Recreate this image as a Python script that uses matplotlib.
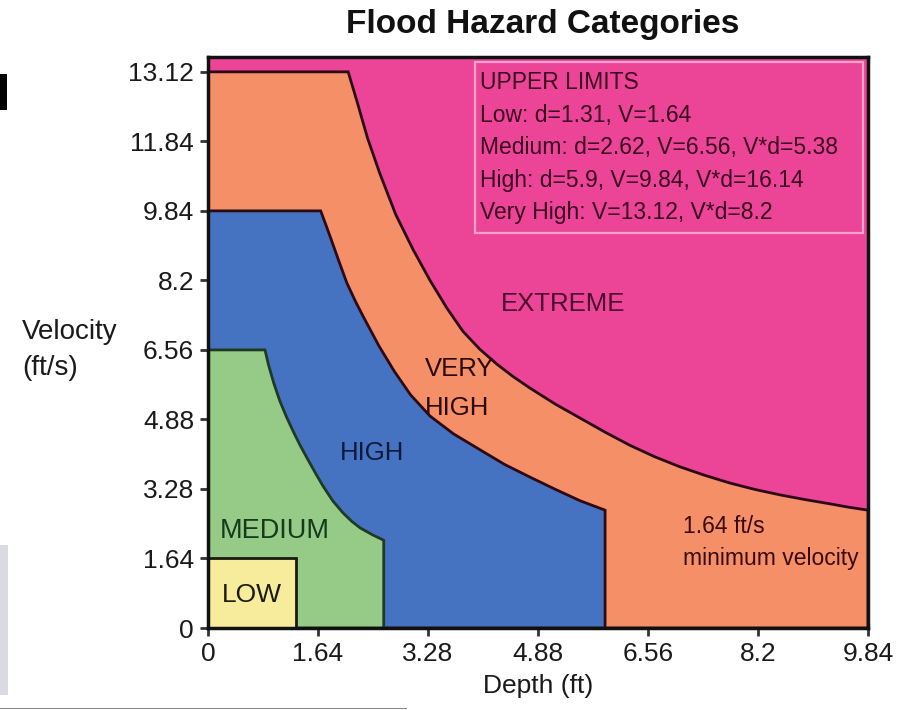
import matplotlib
matplotlib.use("Agg")
import matplotlib.pyplot as plt
from matplotlib.patches import Rectangle

# tick positions (1.64 ft steps) and the labels printed on the original chart
x_ticks = [0, 1.64, 3.28, 4.92, 6.56, 8.2, 9.84]
x_labels = ["0", "1.64", "3.28", "4.88", "6.56", "8.2", "9.84"]
y_ticks = [0, 1.64, 3.28, 4.92, 6.56, 8.2, 9.84, 11.48, 13.12]
y_labels = ["0", "1.64", "3.28", "4.88", "6.56", "8.2", "9.84", "11.84", "13.12"]

# category boundaries (depth ft, velocity ft/s)
low_d = [0, 0, 1.31, 1.31]
low_v = [0, 1.64, 1.64, 0]

medium_d = [0, 0, 0.85, 0.90, 0.98, 1.07, 1.17, 1.27, 1.37, 1.48, 1.60, 1.71,
            1.86, 2.01, 2.14, 2.27, 2.45, 2.62, 2.62]
medium_v = [0, 6.56, 6.56, 6.22, 5.78, 5.36, 4.98, 4.64, 4.32, 4.00, 3.66, 3.36,
            3.00, 2.72, 2.52, 2.36, 2.20, 2.07, 0]

high_d = [0, 0, 1.68, 1.76, 1.84, 1.95, 2.07, 2.20, 2.33, 2.55, 2.78, 3.02, 3.31,
          3.66, 4.06, 4.42, 4.80, 5.18, 5.55, 5.92, 5.92]
high_v = [0, 9.84, 9.84, 9.50, 9.15, 8.66, 8.14, 7.70, 7.30, 6.65, 6.05, 5.50,
          5.00, 4.58, 4.20, 3.86, 3.56, 3.27, 3.00, 2.78, 0]

vhigh_d = [0, 0, 2.09, 2.15, 2.22, 2.38, 2.56, 2.80, 3.06, 3.31, 3.56, 3.80,
           4.05, 4.31, 4.55, 4.80, 5.18, 5.55, 5.92, 6.29, 6.66, 7.04, 7.41,
           7.78, 8.15, 8.53, 8.90, 9.27, 9.55, 9.84, 9.84]
vhigh_v = [0, 13.12, 13.12, 12.80, 12.43, 11.55, 10.73, 9.75, 8.92, 8.20, 7.55,
           7.00, 6.58, 6.22, 5.93, 5.66, 5.28, 4.95, 4.62, 4.31, 4.04, 3.80,
           3.60, 3.42, 3.27, 3.14, 3.03, 2.93, 2.85, 2.78, 0]

limits_text = ["UPPER LIMITS",
               "Low: d=1.31, V=1.64",
               "Medium: d=2.62, V=6.56, V*d=5.38",
               "High: d=5.9, V=9.84, V*d=16.14",
               "Very High: V=13.12, V*d=8.2"]

c_extreme = "#EC4598"
c_vhigh = "#F48F68"
c_high = "#4672C2"
c_medium = "#95CB86"
c_low = "#F7EB9C"
edge = "#2B0A16"

plain = ["Liberation Sans", "DejaVu Sans"]

fig = plt.figure(figsize=(9.17, 7.10), dpi=100)
ax = fig.add_axes([208 / 917, 1 - 628 / 710, 660 / 917, 571 / 710])
ax.set_facecolor(c_extreme)

ax.fill(vhigh_d, vhigh_v, facecolor=c_vhigh, edgecolor=edge, linewidth=2)
ax.fill(high_d, high_v, facecolor=c_high, edgecolor=edge, linewidth=2)
ax.fill(medium_d, medium_v, facecolor=c_medium, edgecolor="#1E3A22", linewidth=2)
ax.fill(low_d, low_v, facecolor=c_low, edgecolor="#1A1A10", linewidth=2)

ax.set_xlim(0, 9.84)
ax.set_ylim(0, 13.47)
ax.set_xticks(x_ticks)
ax.set_xticklabels(x_labels, family=plain, fontsize=19, color="#1a1a1a")
ax.set_yticks(y_ticks)
ax.set_yticklabels(y_labels, family=plain, fontsize=19, color="#1a1a1a")
ax.tick_params(direction="out", length=6, width=2, color="#333333", pad=4)
for s in ax.spines.values():
    s.set_linewidth(2.5)
    s.set_color("#111111")

# upper limits box
ax.add_patch(Rectangle((3.98, 9.32), 5.79, 4.03, facecolor="none",
                       edgecolor="#F7A3CB", linewidth=1.6))
for i, line in enumerate(limits_text):
    ax.text(4.06, 12.86 - i * 0.765, line, family=plain, fontsize=16.5,
            color="#3A0620", va="center", ha="left")

# region labels
ax.text(5.3, 7.65, "EXTREME", family=plain, fontsize=18.5, color="#4A0A30",
        ha="center", va="center")
ax.text(3.24, 6.1, "VERY", family=plain, fontsize=18.5, color="#2A0A0A",
        ha="left", va="center")
ax.text(3.24, 5.2, "HIGH", family=plain, fontsize=18.5, color="#2A0A0A",
        ha="left", va="center")
ax.text(1.97, 4.12, "HIGH", family=plain, fontsize=18.5, color="#0E1A3A",
        ha="left", va="center")
ax.text(0.17, 2.3, "MEDIUM", family=plain, fontsize=19.5, color="#153A1C",
        ha="left", va="center")
ax.text(0.21, 0.78, "LOW", family=plain, fontsize=19, color="#1A1A10",
        ha="left", va="center")
ax.text(7.08, 2.4, "1.64 ft/s", family=plain, fontsize=16.5, color="#3A0A10",
        ha="left", va="center")
ax.text(7.08, 1.63, "minimum velocity", family=plain, fontsize=16.5, color="#3A0A10",
        ha="left", va="center")

fig.text(543 / 917, 1 - 25 / 710, "Flood Hazard Categories", family=plain,
         fontsize=24, weight="bold", color="#111111", ha="center", va="center")
ax.set_xlabel("Depth (ft)", family=plain, fontsize=19, color="#1a1a1a", labelpad=6)
fig.text(22 / 917, 1 - 332 / 710, "Velocity", family=plain, fontsize=20,
         color="#1a1a1a", ha="left", va="center")
fig.text(22 / 917, 1 - 368 / 710, "(ft/s)", family=plain, fontsize=20,
         color="#1a1a1a", ha="left", va="center")

# bits of the surrounding slide (edge of a cropped letter, grey panel, rule)
fig.patches.append(Rectangle((0, 1 - 110 / 710), 7 / 917, 36 / 710,
                             transform=fig.transFigure, facecolor="black",
                             edgecolor="none"))
fig.patches.append(Rectangle((0, 1 - 695 / 710), 8 / 917, 150 / 710,
                             transform=fig.transFigure, facecolor="#D9DAE2",
                             edgecolor="none"))
fig.patches.append(Rectangle((0, 1 - 709 / 710), 407 / 917, 1.5 / 710,
                             transform=fig.transFigure, facecolor="#888888",
                             edgecolor="none"))

fig.savefig("out.png", dpi=100)
